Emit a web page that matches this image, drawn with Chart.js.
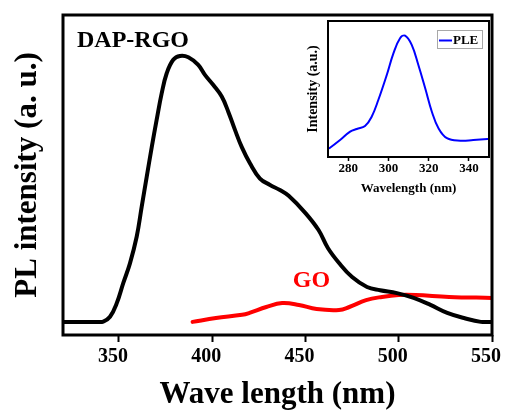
<!DOCTYPE html>
<html><head><meta charset="utf-8">
<script src="https://cdn.jsdelivr.net/npm/chart.js@4.4.0/dist/chart.umd.min.js"></script>
<style>
html,body{margin:0;padding:0;background:#fff;}
#wrap{position:relative;width:505px;height:410px;overflow:hidden;}
#main{position:absolute;left:0;top:0;}
#inset{position:absolute;left:290px;top:10px;}
</style></head><body>
<div id="wrap"><canvas id="main" width="505" height="410"></canvas><canvas id="inset" width="202" height="190"></canvas></div>
<script>
// ---- data ----
const xTicksMain = [350, 400, 450, 500, 550];
const xTicksInset = [280, 300, 320, 340];

const dapWl  = [320, 338, 341.6, 345.2, 348.8, 352.3, 355.9, 359.5, 362.2, 364.9, 367.6, 370.2, 372.9, 375.6, 379.1, 382.7, 387.2, 392.5, 396.1, 400.6, 405.1, 408.6, 412.2, 415.8, 420.3, 425.6, 431, 436.3, 441, 450, 457, 462, 468, 475, 483, 490, 499, 508, 517, 526, 535, 544, 550];
const dapVal = [4.1, 4.1, 4.2, 5.7, 9.9, 16.2, 22.4, 30.7, 40.1, 49.5, 58.8, 67.2, 75.5, 81.8, 86, 87.2, 86.8, 84.4, 81.3, 78.1, 74.5, 69.8, 64.1, 58.8, 53.6, 48.9, 46.9, 45.3, 43.5, 38.1, 32.8, 27.2, 22.5, 18.1, 15, 14, 13.1, 11.6, 9.4, 6.9, 5.3, 4.1, 4.1];

const goWl  = [389.5, 402, 416, 420, 429, 437.5, 446.5, 456, 468, 473.5, 482.5, 491, 500, 509, 527, 550];
const goVal = [4.1, 5.3, 6.3, 6.9, 8.75, 10, 9.4, 8.1, 7.8, 8.75, 10.9, 11.9, 12.5, 12.5, 11.9, 11.6];

const pleWl  = [270, 271, 276, 281, 284.3, 288.4, 291.7, 295, 299.2, 302.5, 305.8, 308.3, 311.6, 314.9, 318.3, 321.6, 324.9, 329.1, 335.8, 342.2, 349.2, 350];
const pleVal = [6, 6.8, 12.5, 18.6, 20.6, 22.8, 29.6, 41.9, 60.3, 76.2, 87.3, 89.2, 82.4, 67.6, 50.5, 33.3, 21.1, 13.8, 12, 12.5, 13.2, 13.2];

const SERIF = '"Liberation Serif","Times New Roman",serif';
function zip(a, b) { return a.map((v, i) => ({ x: v, y: b[i] })); }

const framePlugin = {
  id: 'frame',
  afterDatasetsDraw(chart, args, opts) {
    const { ctx, chartArea: a } = chart;
    ctx.save();
    ctx.lineWidth = opts.width || 2;
    ctx.strokeStyle = '#000';
    ctx.strokeRect(a.left, a.top, a.right - a.left, a.bottom - a.top);
    ctx.restore();
  }
};

const mainLabels = {
  id: 'mainLabels',
  afterDatasetsDraw(chart) {
    const { ctx, scales: { x, y } } = chart;
    ctx.save();
    ctx.font = 'bold 24px ' + SERIF;
    ctx.textBaseline = 'middle';
    ctx.fillStyle = '#000';
    ctx.textAlign = 'left';
    ctx.fillText(chart.data.datasets[0].label, x.getPixelForValue(327.5), y.getPixelForValue(91.9));
    ctx.fillStyle = '#ff0000';
    ctx.textAlign = 'center';
    ctx.fillText(chart.data.datasets[1].label, x.getPixelForValue(453.2), y.getPixelForValue(17));
    ctx.restore();
  }
};

const insetLegend = {
  id: 'insetLegend',
  afterDraw(chart) {
    const { ctx, chartArea: a } = chart;
    const ds = chart.data.datasets[0];
    const bw = 45, bh = 18;
    const bx = a.right - 52, by = a.top + 9;
    ctx.save();
    ctx.fillStyle = '#fff';
    ctx.fillRect(bx, by, bw, bh);
    ctx.strokeStyle = '#a8a8a8';
    ctx.lineWidth = 1;
    ctx.strokeRect(bx + 0.5, by + 0.5, bw, bh);
    ctx.strokeStyle = ds.borderColor;
    ctx.lineWidth = 2;
    ctx.beginPath();
    ctx.moveTo(bx + 2, by + 10.5);
    ctx.lineTo(bx + 15, by + 10.5);
    ctx.stroke();
    ctx.fillStyle = '#000';
    ctx.font = 'bold 13px ' + SERIF;
    ctx.textBaseline = 'middle';
    ctx.textAlign = 'left';
    ctx.fillText(ds.label, bx + 16, by + 10.5);
    ctx.restore();
  }
};

new Chart(document.getElementById('main'), {
  type: 'line',
  data: {
    datasets: [
      { label: 'DAP-RGO', data: zip(dapWl, dapVal), borderColor: '#000', borderWidth: 4, pointRadius: 0, fill: false, tension: 0.4, borderJoinStyle: 'round', borderCapStyle: 'round' },
      { label: 'GO', data: zip(goWl, goVal), borderColor: '#ff0000', borderWidth: 4, pointRadius: 0, fill: false, tension: 0.4, borderJoinStyle: 'round', borderCapStyle: 'round' }
    ]
  },
  options: {
    responsive: false, animation: false, devicePixelRatio: 1, events: [],
    layout: { padding: { left: 0, right: 13, top: 15, bottom: 0 } },
    plugins: { legend: { display: false }, tooltip: { enabled: false }, frame: { width: 3 } },
    scales: {
      x: {
        type: 'linear', min: 320, max: 550,
        afterBuildTicks: s => { s.ticks = xTicksMain.map(v => ({ value: v })); },
        afterFit: s => { s.height = 75; s.paddingLeft = 0; s.paddingRight = 0; },
        grid: { display: true, drawOnChartArea: false, drawTicks: true, tickLength: 7, tickWidth: 2, tickColor: '#000' },
        border: { display: false },
        ticks: { color: '#000', font: { family: SERIF, size: 20, weight: 'bold', lineHeight: 1.2 }, padding: 3, labelOffset: -6, maxRotation: 0, autoSkip: false },
        title: { display: true, text: 'Wave length (nm)', color: '#000', font: { family: SERIF, size: 31, weight: 'bold', lineHeight: 1 }, padding: { top: 0, bottom: 0 } }
      },
      y: {
        min: 0, max: 100,
        afterFit: s => { s.width = 63; s.paddingTop = 0; s.paddingBottom = 0; },
        grid: { display: false }, border: { display: false }, ticks: { display: false },
        title: { display: true, text: 'PL intensity (a. u.)', color: '#000', font: { family: SERIF, size: 31, weight: 'bold', lineHeight: 1 }, padding: { top: 12, bottom: 0 } }
      }
    }
  },
  plugins: [framePlugin, mainLabels]
});

new Chart(document.getElementById('inset'), {
  type: 'line',
  data: {
    datasets: [
      { label: 'PLE', data: zip(pleWl, pleVal), borderColor: '#0000ff', borderWidth: 2, pointRadius: 0, fill: false, tension: 0.4 }
    ]
  },
  options: {
    responsive: false, animation: false, devicePixelRatio: 1, events: [],
    layout: { padding: { left: 0, right: 3, top: 11, bottom: 0 } },
    plugins: { legend: { display: false }, tooltip: { enabled: false }, frame: { width: 2 } },
    scales: {
      x: {
        type: 'linear', min: 270, max: 350,
        afterBuildTicks: s => { s.ticks = xTicksInset.map(v => ({ value: v })); },
        afterFit: s => { s.height = 43; s.paddingLeft = 0; s.paddingRight = 0; },
        grid: { display: true, drawOnChartArea: false, drawTicks: true, tickLength: 4, tickWidth: 1.5, tickColor: '#000' },
        border: { display: false },
        ticks: { color: '#000', font: { family: SERIF, size: 13, weight: 'bold', lineHeight: 1 }, padding: 1, maxRotation: 0, autoSkip: false },
        title: { display: true, text: 'Wavelength (nm)', color: '#000', font: { family: SERIF, size: 13, weight: 'bold', lineHeight: 1 }, padding: { top: 0, bottom: 5 } }
      },
      y: {
        min: 0, max: 100,
        afterFit: s => { s.width = 38; s.paddingTop = 0; s.paddingBottom = 0; },
        grid: { display: false }, border: { display: false }, ticks: { display: false },
        title: { display: true, text: 'Intensity (a.u.)', color: '#000', font: { family: SERIF, size: 14, weight: 'bold', lineHeight: 1 }, padding: { top: 16, bottom: 0 } }
      }
    }
  },
  plugins: [framePlugin, insetLegend]
});
</script>
</body></html>
